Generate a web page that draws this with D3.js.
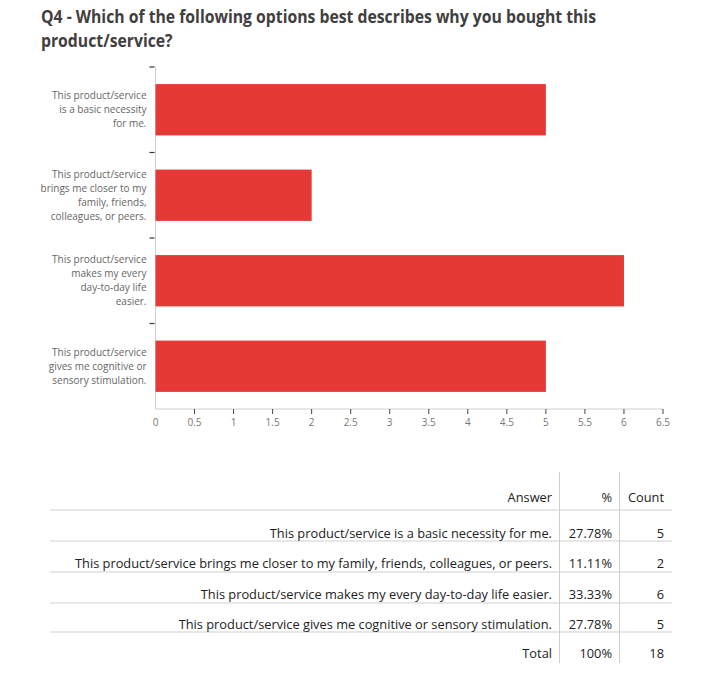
<!DOCTYPE html>
<html><head><meta charset="utf-8">
<script src="https://cdn.jsdelivr.net/npm/d3@7"></script>
<style>body{margin:0;background:#fff;} svg{display:block;}</style>
</head><body>
<script>
const titleLines = ["Q4 - Which of the following options best describes why you bought this", "product/service?"];
const categoryLabels = [
  ["This product/service","is a basic necessity","for me."],
  ["This product/service","brings me closer to my","family, friends,","colleagues, or peers."],
  ["This product/service","makes my every","day-to-day life","easier."],
  ["This product/service","gives me cognitive or","sensory stimulation."]
];
const answers = [
  "This product/service is a basic necessity for me.",
  "This product/service brings me closer to my family, friends, colleagues, or peers.",
  "This product/service makes my every day-to-day life easier.",
  "This product/service gives me cognitive or sensory stimulation."
];
const counts = [5, 2, 6, 5];
const percents = ["27.78%", "11.11%", "33.33%", "27.78%"];
const xTicks = [0,0.5,1,1.5,2,2.5,3,3.5,4,4.5,5,5.5,6,6.5];
const tableHeader = ["Answer", "%", "Count"];
const totalRow = ["Total", "100%", "18"];

const W = 712, H = 691;
const svg = d3.select("body").append("svg").attr("width", W).attr("height", H);

function fitText(sel, k){
  sel.each(function(){
    const w = this.getComputedTextLength();
    d3.select(this).attr("textLength", w*k).attr("lengthAdjust","spacingAndGlyphs");
  });
}

// Title
const title = svg.append("g").selectAll("text").data(titleLines).join("text")
  .attr("x", 41).attr("y", (d,i)=>23 + i*24)
  .attr("font-family","'Open Sans', sans-serif").attr("font-weight","bold")
  .attr("font-size", 17.5).attr("fill","#404040").text(d=>d);
{
  const w0 = title.nodes()[0].getComputedTextLength();
  fitText(title, 555 / w0);
}

// Chart
const x = d3.scaleLinear().domain([0, 6.5]).range([155.5, 663]);
const y = d3.scaleBand().domain(d3.range(counts.length)).range([67, 409]).paddingInner(0.4).paddingOuter(0.2);
const chart = svg.append("g");

// axis lines
chart.append("line").attr("x1", x(0)).attr("x2", x(0)).attr("y1", 67).attr("y2", 409)
  .attr("stroke","#d0d0d0");
chart.append("line").attr("x1", x(0)).attr("x2", x(6.5)).attr("y1", 409).attr("y2", 409)
  .attr("stroke","#d0d0d0");

// bars
chart.selectAll("rect.bar").data(counts).join("rect").attr("class","bar")
  .attr("x", x(0)).attr("y", (d,i)=>y(i)).attr("width", d=>x(d)-x(0)).attr("height", y.bandwidth())
  .attr("fill","#e53935");

// y ticks at band tops
const step = y.step();
chart.selectAll("line.yt").data(d3.range(counts.length)).join("line").attr("class","yt")
  .attr("x1", x(0)-6).attr("x2", x(0)-1)
  .attr("y1", (d,i)=>y(i) - step*0.2).attr("y2", (d,i)=>y(i) - step*0.2)
  .attr("stroke","#333").attr("stroke-width",1.2);

// y labels
categoryLabels.forEach((lines, i) => {
  const cy = y(i) + y.bandwidth()/2;
  const lh = 14;
  const t = chart.append("text").attr("text-anchor","end")
    .attr("font-family","'Open Sans', sans-serif").attr("font-size", 10).attr("fill","#666");
  lines.forEach((ln, j) => {
    t.append("tspan").attr("x", 146.5)
      .attr("y", cy + (j - (lines.length-1)/2)*lh + 3.5).text(ln);
  });
});

// x ticks
const xg = chart.append("g");
xg.selectAll("line").data(xTicks.filter(d=>d>0)).join("line")
  .attr("x1", d=>x(d)).attr("x2", d=>x(d)).attr("y1", 409).attr("y2", 414)
  .attr("stroke","#444");
xg.selectAll("text").data(xTicks).join("text")
  .attr("x", d=>x(d)).attr("y", 426).attr("text-anchor","middle")
  .attr("font-family","'Open Sans', sans-serif").attr("font-size", 10).attr("fill","#777")
  .text(d=>d3.format("")(d));

// Table
const tbl = svg.append("g");
const colRight = [552, 612, 664];
const vLines = [559.5, 619.5];
const hLines = [510, 541, 572, 603, 632];
const rowCenters = [533, 563.5, 594, 624, 653];

vLines.forEach(vx => tbl.append("line").attr("x1", vx).attr("x2", vx).attr("y1", 472).attr("y2", 663).attr("stroke","#cfcfcf"));
hLines.forEach(hy => tbl.append("line").attr("x1", 50).attr("x2", 672).attr("y1", hy).attr("y2", hy).attr("stroke","#cfcfcf"));

const rows = [tableHeader]
  .concat(answers.map((a,i)=>[a, percents[i], String(counts[i])]))
  .concat([totalRow]);
const rowY = [497].concat(rowCenters);

const allTexts = [];
rows.forEach((r, ri) => {
  r.forEach((cell, ci) => {
    const t = tbl.append("text").attr("x", colRight[ci]).attr("y", rowY[ri] + 4.8)
      .attr("text-anchor","end").attr("font-family","'Open Sans', sans-serif")
      .attr("font-size", 13).attr("fill","#222").text(cell);
    allTexts.push(t.node());
  });
});
// compress to Calibri-like width
const longest = allTexts.find(n => n.textContent === answers[1]);
const kT = 477 / longest.getComputedTextLength();
fitText(d3.selectAll(allTexts), kT);
</script>
</body></html>
